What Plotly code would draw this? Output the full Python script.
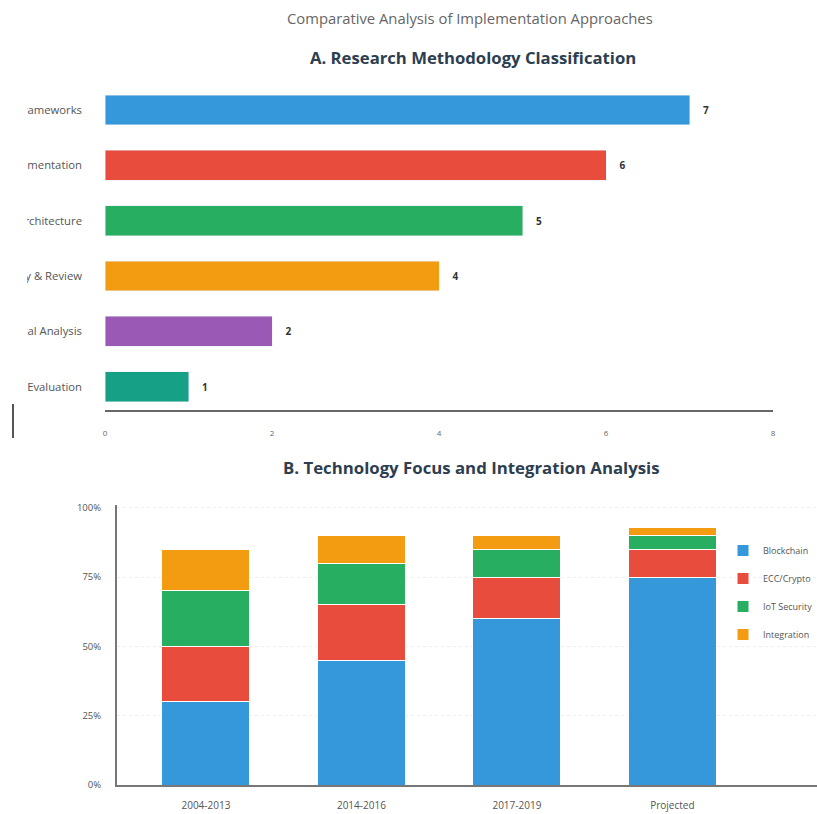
import plotly.graph_objects as go

# Panel A: research methodology classification
methods = ["Security Frameworks", "Implementation", "System Architecture",
           "Survey & Review", "Theoretical Analysis", "Performance Evaluation"]
method_counts = [7, 6, 5, 4, 2, 1]
method_colors = ["#3498db", "#e74c3c", "#27ae60", "#f39c12", "#9b59b6", "#16a085"]

# Panel B: technology focus by period (percent share)
periods = ["2004-2013", "2014-2016", "2017-2019", "Projected"]
blockchain = [30, 45, 60, 75]
ecc_crypto = [20, 20, 15, 10]
iot_security = [20, 15, 10, 5]
integration = [15, 10, 5, 3]
series_names = ["Blockchain", "ECC/Crypto", "IoT Security", "Integration"]
series_colors = ["#3498db", "#e74c3c", "#27ae60", "#f39c12"]
pct_ticks = [0, 25, 50, 75, 100]
pct_labels = ["0%", "25%", "50%", "75%", "100%"]

W, H = 817, 814


def px_x(v):
    return v / W


def px_y(v):
    return 1 - v / H


fig = go.Figure()

fig.add_trace(go.Bar(
    x=method_counts, y=methods, orientation="h",
    marker=dict(color=method_colors), width=0.54,
    text=method_counts, texttemplate="    %{x}", textposition="outside",
    textfont=dict(size=10, color="#333", family="Open Sans", weight="bold"),
    cliponaxis=False, showlegend=False, xaxis="x", yaxis="y",
    hoverinfo="x+y",
))

for name, vals, col in zip(series_names,
                           [blockchain, ecc_crypto, iot_security, integration],
                           series_colors):
    fig.add_trace(go.Bar(
        x=periods, y=vals, name=name, width=0.566,
        marker=dict(color=col, line=dict(color="white", width=1)),
        legendgroup=name, xaxis="x2", yaxis="y2",
    ))

fig.update_layout(
    width=W, height=H,
    margin=dict(l=0, r=0, t=0, b=0, autoexpand=False),
    paper_bgcolor="white", plot_bgcolor="white",
    font=dict(family="Open Sans", color="#555"),
    barmode="stack",
    xaxis=dict(
        domain=[px_x(105), px_x(773)], range=[0, 8], anchor="y",
        showgrid=False, zeroline=False, showline=True,
        linecolor="#666", linewidth=2, automargin=False,
        tickvals=[0, 2, 4, 6, 8], ticks="", ticklabelstandoff=14,
        tickfont=dict(size=8, color="#666"),
    ),
    yaxis=dict(
        domain=[px_y(410), px_y(82.3)], range=[5.42, -0.5], anchor="x",
        type="category", showgrid=False, zeroline=False, showline=False,
        ticks="", ticklabelstandoff=22, automargin=False,
        tickfont=dict(size=11.3, color="#555"),
    ),
    xaxis2=dict(
        domain=[px_x(117), 1.0], range=[-0.572, 3.93], anchor="y2",
        type="category", showgrid=False, zeroline=False, showline=True,
        linecolor="#777", linewidth=2, ticks="", ticklabelstandoff=10,
        automargin=False, tickfont=dict(size=10, color="#555"),
    ),
    yaxis2=dict(
        domain=[px_y(785), px_y(505)], range=[0, 101], anchor="x2",
        showgrid=True, gridcolor="#eeeeee", griddash="dot", zeroline=False,
        showline=True, linecolor="#777", linewidth=2, automargin=False,
        tickvals=pct_ticks, ticktext=pct_labels, ticks="",
        ticklabelstandoff=12, tickfont=dict(size=9.5, color="#555"),
    ),
    legend=dict(
        x=px_x(723), y=px_y(536), xanchor="left", yanchor="top",
        traceorder="grouped", tracegroupgap=9,
        font=dict(size=9, color="#555"), bgcolor="rgba(0,0,0,0)",
    ),
    annotations=[
        dict(text="Comparative Analysis of Implementation Approaches",
             x=px_x(470), y=px_y(18), xref="paper", yref="paper",
             xanchor="center", yanchor="middle",
             showarrow=False, font=dict(size=14.8, color="#666")),
        dict(text="<b>A. Research Methodology Classification</b>",
             x=px_x(473), y=px_y(58), xref="paper", yref="paper",
             xanchor="center", yanchor="middle",
             showarrow=False, font=dict(size=16.7, color="#2c3e50")),
        dict(text="<b>B. Technology Focus and Integration Analysis</b>",
             x=px_x(471), y=px_y(467), xref="paper", yref="paper",
             xanchor="center", yanchor="middle",
             showarrow=False, font=dict(size=16.8, color="#2c3e50")),
    ],
    shapes=[
        # left edge of the category label column is cropped by its container
        dict(type="rect", xref="paper", yref="paper", layer="above",
             x0=-0.05, x1=px_x(27), y0=px_y(400), y1=px_y(85),
             fillcolor="white", line=dict(width=0)),
        dict(type="line", xref="paper", yref="paper",
             x0=px_x(13), x1=px_x(13), y0=px_y(404), y1=px_y(438),
             line=dict(color="#555", width=2)),
    ],
)

fig.write_html("out.html")
